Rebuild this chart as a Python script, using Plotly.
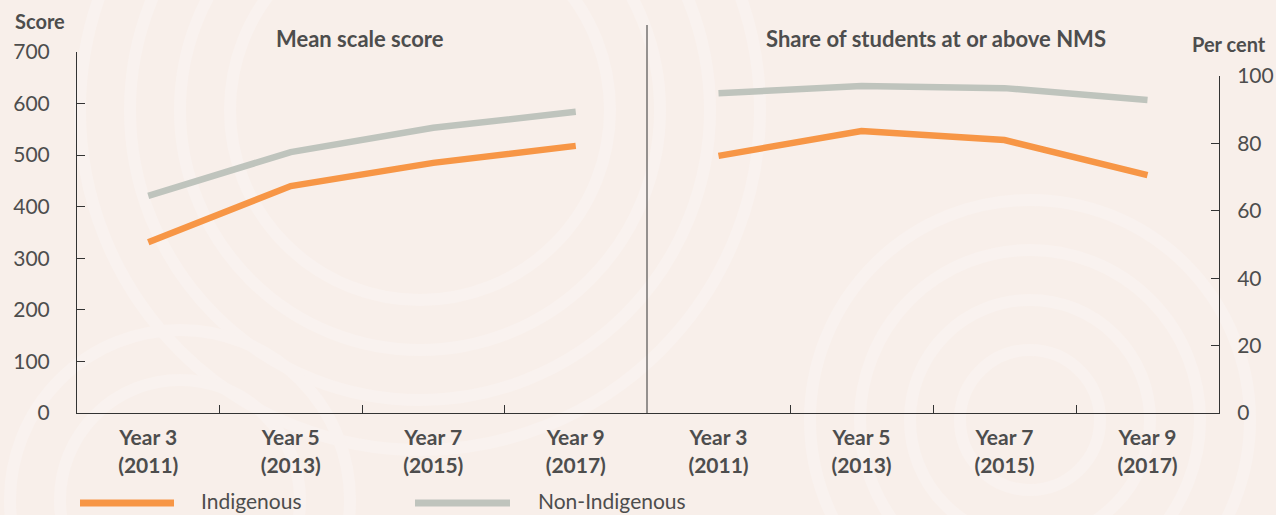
import plotly.graph_objects as go

categories = ["Year 3<br>(2011)", "Year 5<br>(2013)", "Year 7<br>(2015)", "Year 9<br>(2017)"]
score_indigenous = [331, 440, 485, 518]
score_non_indigenous = [421, 506, 553, 584]
nms_indigenous = [76.3, 83.7, 81.0, 70.6]
nms_non_indigenous = [94.9, 97.0, 96.4, 92.9]
score_ticks = [0, 100, 200, 300, 400, 500, 600, 700]
pct_ticks = [0, 20, 40, 60, 80, 100]

ORANGE = "#F79646"
GREY = "#BFC4BD"
TEXT = "#4D4D4D"
BG = "#F8EFEA"
FONT = "Lato, sans-serif"

W, H = 1276, 515
def px(x): return x / W
def py(y): return 1 - y / H

fig = go.Figure()
fig.add_trace(go.Scatter(x=categories, y=score_indigenous, mode="lines",
                         line=dict(color=ORANGE, width=6.5), xaxis="x", yaxis="y", showlegend=False))
fig.add_trace(go.Scatter(x=categories, y=score_non_indigenous, mode="lines",
                         line=dict(color=GREY, width=6.5), xaxis="x", yaxis="y", showlegend=False))
fig.add_trace(go.Scatter(x=categories, y=nms_indigenous, mode="lines",
                         line=dict(color=ORANGE, width=6.5), xaxis="x2", yaxis="y2", showlegend=False))
fig.add_trace(go.Scatter(x=categories, y=nms_non_indigenous, mode="lines",
                         line=dict(color=GREY, width=6.5), xaxis="x2", yaxis="y2", showlegend=False))

xcommon = dict(type="category", showline=True, linecolor="#333", linewidth=1,
               ticks="inside", tickson="boundaries", ticklen=8, tickcolor="#333",
               showgrid=False, zeroline=False, fixedrange=True, automargin=False,
               tickfont=dict(family=FONT, size=21, color=TEXT, weight="bold"),
               ticklabelstandoff=6)
fig.update_layout(
    width=W, height=H, autosize=False,
    margin=dict(l=0, r=0, t=0, b=0, pad=0),
    paper_bgcolor=BG, plot_bgcolor="rgba(0,0,0,0)",
    font=dict(family=FONT, color=TEXT),
    xaxis=dict(domain=[px(77), px(647)], anchor="y", range=[-0.5, 3.5], **xcommon),
    xaxis2=dict(domain=[px(647), px(1219)], anchor="y2", range=[-0.5, 3.5], **xcommon),
    yaxis=dict(domain=[py(413), py(52)], anchor="x", range=[0, 700], tickvals=score_ticks,
               showline=True, linecolor="#333", linewidth=1, ticks="inside", ticklen=8,
               tickcolor="#333", showgrid=False, zeroline=False, automargin=False,
               tickfont=dict(family=FONT, size=21, color=TEXT), ticklabelstandoff=22),
    yaxis2=dict(domain=[py(413), py(76)], anchor="x2", side="right", range=[0, 100],
                tickvals=pct_ticks, showline=True, linecolor="#333", linewidth=1,
                ticks="inside", ticklen=8, tickcolor="#333", showgrid=False, zeroline=False,
                automargin=False,
                tickfont=dict(family=FONT, size=21, color=TEXT), ticklabelstandoff=13),
)

shapes = []
# decorative background rings
rings = [(420, 110, [190, 240, 290, 340]), (1030, 420, [70, 120, 170, 220]), (180, 500, [120, 170])]
for cx, cy, rs in rings:
    for r in rs:
        shapes.append(dict(type="circle", xref="paper", yref="paper", layer="below",
                           x0=px(cx - r), x1=px(cx + r), y0=py(cy + r), y1=py(cy - r),
                           line=dict(color="#F9F2EF", width=12)))
# divider between panels
shapes.append(dict(type="line", xref="paper", yref="paper", x0=px(647), x1=px(647),
                   y0=py(413), y1=py(25), line=dict(color="#333", width=1)))
# legend lines
shapes.append(dict(type="line", xref="paper", yref="paper", x0=px(80), x1=px(174),
                   y0=py(503), y1=py(503), line=dict(color=ORANGE, width=7)))
shapes.append(dict(type="line", xref="paper", yref="paper", x0=px(415), x1=px(510),
                   y0=py(503), y1=py(503), line=dict(color=GREY, width=7)))
fig.update_layout(shapes=shapes)

ann = [
    dict(text="<b>Score</b>", x=px(13), y=py(21), xanchor="left", yanchor="middle", size=20),
    dict(text="<b>Per cent</b>", x=px(1268), y=py(44), xanchor="right", yanchor="middle", size=20),
    dict(text="<b>Mean scale score</b>", x=px(360), y=py(38), xanchor="center", yanchor="middle", size=22),
    dict(text="<b>Share of students at or above NMS</b>", x=px(936), y=py(38), xanchor="center", yanchor="middle", size=22),
    dict(text="Indigenous", x=px(199), y=py(500), xanchor="left", yanchor="middle", size=21),
    dict(text="Non-Indigenous", x=px(536), y=py(500), xanchor="left", yanchor="middle", size=21),
]
fig.update_layout(annotations=[
    dict(text=a["text"], x=a["x"], y=a["y"], xref="paper", yref="paper",
         xanchor=a["xanchor"], yanchor=a["yanchor"], showarrow=False,
         font=dict(family=FONT, size=a["size"], color=TEXT)) for a in ann
])

fig.write_html("out.html", config={"displayModeBar": False},
               post_script="document.body.style.margin='0';document.body.style.background='#F8EFEA';")
